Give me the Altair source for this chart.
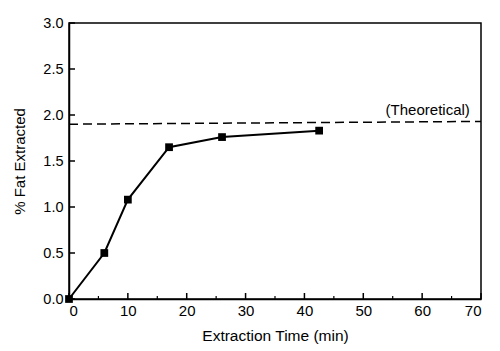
import altair as alt
import pandas as pd

time_min = [0, 6, 10, 17, 26, 42.5]
fat_pct = [0.0, 0.5, 1.08, 1.65, 1.76, 1.83]
theo_x = [0, 70]
theo_y = [1.9, 1.93]
x_major = [0, 10, 20, 30, 40, 50, 60, 70]
x_minor = [5, 15, 25, 35, 45, 55, 65]
y_major = [0.0, 0.5, 1.0, 1.5, 2.0, 2.5, 3.0]

df = pd.DataFrame({"t": time_min, "f": fat_pct})
theo = pd.DataFrame({"t": theo_x, "f": theo_y})
font = "Liberation Sans"

xs = alt.Scale(domain=[0, 70], nice=False)
ys = alt.Scale(domain=[0, 3], nice=False)

base_x = alt.X("t:Q", scale=xs, title="Extraction Time (min)",
               axis=alt.Axis(values=x_major, format="d", tickSize=0, labelPadding=4,
                             domainColor="black", domainWidth=1.5, grid=False,
                             labelFont=font, labelFontSize=15, labelColor="black",
                             titleFont=font, titleFontSize=15.5, titleFontWeight="normal",
                             titleColor="black", titlePadding=10))
base_y = alt.Y("f:Q", scale=ys, title="% Fat Extracted",
               axis=alt.Axis(values=y_major, format=".1f", tickSize=0, labelPadding=6,
                             domainColor="black", domainWidth=1.5, grid=False,
                             labelFont=font, labelFontSize=14.5, labelColor="black",
                             titleFont=font, titleFontSize=15, titleFontWeight="normal",
                             titleColor="black", titlePadding=15))

line = alt.Chart(df).mark_line(color="black", strokeWidth=2).encode(x=base_x, y=base_y)
pts = alt.Chart(df).mark_point(shape="square", filled=True, color="black", size=60, opacity=1).encode(
    x=alt.X("t:Q", scale=xs), y=alt.Y("f:Q", scale=ys))
theo_line = alt.Chart(theo).mark_line(color="black", strokeWidth=1.5, strokeDash=[9, 5]).encode(
    x=alt.X("t:Q", scale=xs), y=alt.Y("f:Q", scale=ys))
label = alt.Chart(pd.DataFrame({"t": [68.1], "f": [2.0], "txt": ["(Theoretical)"]})).mark_text(
    align="right", baseline="alphabetic", font=font, fontSize=15, color="black").encode(
    x=alt.X("t:Q", scale=xs), y=alt.Y("f:Q", scale=ys), text="txt:N")

xt_major = alt.Chart(pd.DataFrame({"t": x_major})).mark_rule(color="black", strokeWidth=1.5).encode(
    x=alt.X("t:Q", scale=xs), y=alt.value(276), y2=alt.value(270))
xt_minor = alt.Chart(pd.DataFrame({"t": x_minor})).mark_rule(color="black", strokeWidth=1.2).encode(
    x=alt.X("t:Q", scale=xs), y=alt.value(276), y2=alt.value(273))
yt_major = alt.Chart(pd.DataFrame({"f": y_major})).mark_rule(color="black", strokeWidth=1.5).encode(
    y=alt.Y("f:Q", scale=ys), x=alt.value(0), x2=alt.value(6))

chart = alt.layer(theo_line, line, pts, label, xt_major, xt_minor, yt_major).properties(
    width=412, height=276,
    autosize=alt.AutoSizeParams(type="none"),
    padding={"left": 69, "top": 23, "right": 19, "bottom": 52},
    background="white",
).configure_view(stroke="black", strokeWidth=1.5)

chart.save("out.html", embed_options={"renderer": "svg", "actions": False})
